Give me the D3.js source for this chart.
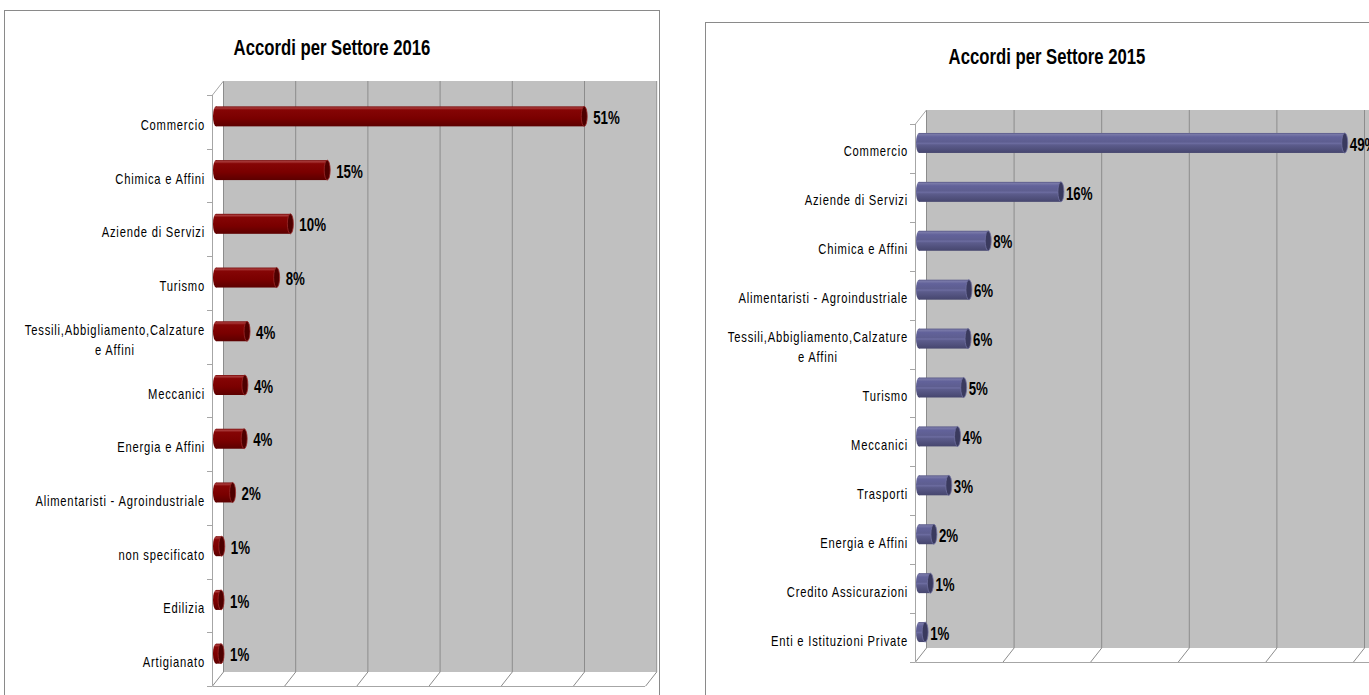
<!DOCTYPE html>
<html>
<head>
<meta charset="utf-8">
<script src="https://cdn.jsdelivr.net/npm/d3@7"></script>
<style>
  body { margin: 0; background: #fff; }
  svg  { display: block; }
</style>
</head>
<body>
<svg id="chart" width="1369" height="695"></svg>
<script>
// ---- data ----
const sectors2016 = [
  'Commercio', 'Chimica e Affini', 'Aziende di Servizi', 'Turismo',
  'Tessili,Abbigliamento,Calzature\ne Affini', 'Meccanici', 'Energia e Affini',
  'Alimentaristi - Agroindustriale', 'non specificato', 'Edilizia', 'Artigianato'
];
const share2016 = [51.0, 15.4, 10.3, 8.4, 4.3, 4.0, 3.9, 2.3, 0.8, 0.7, 0.7];

const sectors2015 = [
  'Commercio', 'Aziende di Servizi', 'Chimica e Affini', 'Alimentaristi - Agroindustriale',
  'Tessili,Abbigliamento,Calzature\ne Affini', 'Turismo', 'Meccanici', 'Trasporti',
  'Energia e Affini', 'Credito Assicurazioni', 'Enti e Istituzioni Private'
];
const share2015 = [48.6, 16.2, 7.9, 5.7, 5.6, 5.1, 4.4, 3.4, 1.7, 1.3, 0.7];

const xTicks = [0, 10, 20, 30, 40, 50, 60];

// ---- layout / style ----
const FONT = '"Liberation Sans",Arial,sans-serif';
const DEPTH = { x: 11, y: 14 };
const BAR_H = 20;

const svg = d3.select('#chart');
const defs = svg.append('defs');

function gradient(id, stops){
  const g = defs.append('linearGradient').attr('id', id)
    .attr('x1', 0).attr('y1', 0).attr('x2', 0).attr('y2', 1);
  stops.forEach(([o, c]) => g.append('stop').attr('offset', o).attr('stop-color', c));
}
gradient('redBody', [[0,'#7a0a0a'],[0.08,'#a83a3a'],[0.18,'#850505'],[0.6,'#7a0000'],[1,'#5c0000']]);
gradient('blueBody', [[0,'#5a5a88'],[0.08,'#7878a8'],[0.2,'#62629a'],[0.45,'#5e5e90'],[0.52,'#6c6ca0'],[0.6,'#5c5c8c'],[1,'#46466e']]);

// text placed at (x,y) and squeezed horizontally to mimic a condensed face
const squeeze = (x, y, k) => `translate(${x},${y}) scale(${k},1)`;

function drawChart(cfg, categories, values){
  const g = svg.append('g');

  // frame
  g.append('rect')
    .attr('x', cfg.frame[0] + 0.5).attr('y', cfg.frame[1] + 0.5)
    .attr('width', cfg.frame[2]).attr('height', cfg.frame[3])
    .attr('fill', 'none').attr('stroke', '#8a8a8a').attr('stroke-width', 1);

  // title
  g.append('text')
    .attr('transform', squeeze(cfg.titleX, cfg.titleY, 0.76))
    .attr('text-anchor', 'middle')
    .attr('font-family', FONT).attr('font-weight', 700).attr('font-size', 22)
    .attr('fill', '#000')
    .text(cfg.title);

  const x = d3.scaleLinear().domain([0, 60]).range([cfg.frontX, cfg.frontX + cfg.step * 6]);
  const y = d3.scaleBand().domain(categories).range([cfg.frontTop, cfg.frontBottom]);

  // back wall
  g.append('rect')
    .attr('x', x(0) + DEPTH.x).attr('y', cfg.frontTop - DEPTH.y)
    .attr('width', x(60) - x(0)).attr('height', cfg.frontBottom - cfg.frontTop)
    .attr('fill', '#c0c0c0');

  // gridlines + floor slants
  g.selectAll('path.grid').data(xTicks).enter().append('path')
    .attr('class', 'grid')
    .attr('d', t => `M${x(t)+DEPTH.x+0.5},${cfg.frontTop-DEPTH.y}` +
                    `V${cfg.frontBottom-DEPTH.y}L${x(t)+0.5},${cfg.frontBottom}`)
    .attr('fill', 'none').attr('stroke', '#8c8c8c').attr('stroke-width', 1);

  // side wall / floor edges
  g.append('path')
    .attr('d', `M${x(0)+DEPTH.x+0.5},${cfg.frontTop-DEPTH.y}L${x(0)+0.5},${cfg.frontTop}` +
               `V${cfg.frontBottom+0.5}H${x(60)}`)
    .attr('fill', 'none').attr('stroke', '#a6a6a6').attr('stroke-width', 1);

  // category ticks at band edges
  const edges = d3.range(categories.length + 1).map(i => cfg.frontTop + i * y.bandwidth());
  g.selectAll('line.tick').data(edges).enter().append('line')
    .attr('x1', x(0) - 5).attr('x2', x(0))
    .attr('y1', d => Math.round(d) + 0.5).attr('y2', d => Math.round(d) + 0.5)
    .attr('stroke', '#a6a6a6');

  // category labels
  const lab = g.selectAll('text.cat').data(categories).enter().append('text')
    .attr('class', 'cat')
    .attr('transform', d => squeeze(cfg.labelX, y(d) + y.bandwidth() / 2 + 3, 0.8))
    .attr('font-family', FONT).attr('font-size', 14).attr('letter-spacing', 1)
    .attr('fill', '#000');
  lab.each(function(d){
    const lines = d.split('\n');
    const t = d3.select(this);
    const top = -(lines.length - 1) * 10 + 5;
    const first = t.append('tspan')
      .attr('x', 0).attr('y', top)
      .attr('text-anchor', 'end').text(lines[0]);
    if (lines.length > 1){
      const w = first.node().getComputedTextLength();
      lines.slice(1).forEach((l, i) => {
        t.append('tspan')
          .attr('x', -w / 2).attr('y', top + (i + 1) * 20)
          .attr('text-anchor', 'middle').text(l);
      });
    }
  });

  // bars (cylinders)
  const rows = categories.map((c, i) => ({ cat: c, v: values[i] }));
  const bar = g.selectAll('g.bar').data(rows).enter().append('g')
    .attr('class', 'bar')
    .attr('transform', d => `translate(0,${y(d.cat) + y.bandwidth()/2 - 5.5})`);

  bar.append('ellipse')
    .attr('cx', x(0) + 4).attr('cy', 0).attr('rx', 3).attr('ry', BAR_H / 2)
    .attr('fill', `url(#${cfg.body})`);
  bar.append('rect')
    .attr('x', x(0) + 4).attr('y', -BAR_H / 2)
    .attr('width', d => Math.max(0, x(d.v) - x(0)))
    .attr('height', BAR_H)
    .attr('fill', `url(#${cfg.body})`);
  bar.append('ellipse')
    .attr('cx', d => x(d.v) + 4).attr('cy', 0).attr('rx', 3).attr('ry', BAR_H / 2)
    .attr('fill', cfg.cap).attr('stroke', cfg.capEdge).attr('stroke-width', 0.8);

  // value labels
  g.selectAll('text.val').data(rows).enter().append('text')
    .attr('class', 'val')
    .attr('transform', d => squeeze(x(d.v) + 7 + cfg.labelGap, y(d.cat) + y.bandwidth()/2 - 4, 0.76))
    .attr('dy', '0.35em')
    .attr('font-family', FONT).attr('font-weight', 700).attr('font-size', 17.5)
    .attr('fill', '#000')
    .text(d => Math.round(d.v) + '%');
}

drawChart({
  title: 'Accordi per Settore 2016',
  frame: [4, 10, 655, 700],
  titleX: 332, titleY: 55,
  frontX: 212, step: 72.2, frontTop: 95, frontBottom: 686,
  labelX: 205, labelGap: 6,
  body: 'redBody', cap: '#4e0000', capEdge: '#9a2a2a'
}, sectors2016, share2016);

drawChart({
  title: 'Accordi per Settore 2015',
  frame: [705, 22, 700, 700],
  titleX: 1047, titleY: 64,
  frontX: 915, step: 87.6, frontTop: 124, frontBottom: 662,
  labelX: 908, labelGap: 2,
  body: 'blueBody', cap: '#3a3a5e', capEdge: '#7070a0'
}, sectors2015, share2015);
</script>
</body>
</html>
